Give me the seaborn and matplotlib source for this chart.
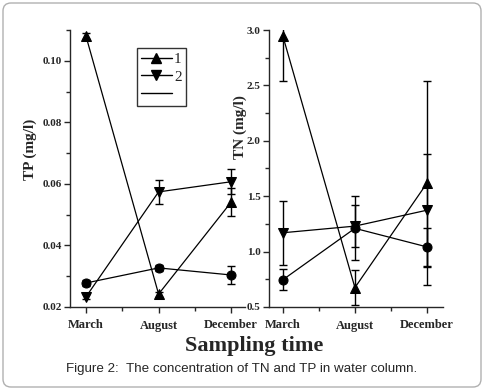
import numpy as np
import pandas as pd
import matplotlib
matplotlib.use("Agg")
import matplotlib.pyplot as plt
import matplotlib.transforms as mtransforms
from matplotlib.patches import FancyBboxPatch
from matplotlib.lines import Line2D
from matplotlib.ticker import MultipleLocator
import seaborn as sns

months = ["March", "August", "December"]
series = ["1", "2", "3"]
markers = {"1": "^", "2": "v", "3": "o"}

# TP (mg/l)
tp_1 = [0.108, 0.0242, 0.0541]
tp_2 = [0.0233, 0.0574, 0.0607]
tp_3 = [0.0278, 0.0327, 0.0304]
tp_err_1 = [0.001, 0.0008, 0.0046]
tp_err_2 = [0.0008, 0.004, 0.004]
tp_err_3 = [0.001, 0.001, 0.003]

# TN (mg/l)
tn_1 = [2.95, 0.675, 1.62]
tn_2 = [1.17, 1.23, 1.374]
tn_3 = [0.745, 1.21, 1.042]
tn_err_1 = [0.41, 0.16, 0.92]
tn_err_2 = [0.29, 0.19, 0.51]
tn_err_3 = [0.095, 0.29, 0.17]

sns.set_style("ticks")
plt.rcParams['font.family'] = ['Liberation Serif', 'DejaVu Serif']
plt.rcParams['xtick.direction'] = 'out'
plt.rcParams['ytick.direction'] = 'out'


def make_df(vals, errs):
    rows = []
    for s, v, e in zip(series, vals, errs):
        for i, m in enumerate(months):
            rows.append({"pos": i, "month": m, "series": s, "value": v[i], "err": e[i]})
    return pd.DataFrame(rows)


def draw_panel(ax, df, ylim, major, minor, xlim, ylabel, label_xy):
    sns.lineplot(data=df, x="pos", y="value", hue="series", style="series",
                 markers=markers, dashes=False, palette=["black"] * 3,
                 markersize=6.5, linewidth=0.9, markeredgecolor="black",
                 legend=False, ax=ax)
    for s in series:
        sub = df[df["series"] == s]
        ax.errorbar(sub["pos"], sub["value"], yerr=sub["err"], fmt="none",
                    ecolor="black", elinewidth=1.0, capsize=3, capthick=1.0)
    ax.set_xlim(*xlim)
    ax.set_ylim(*ylim)
    ax.set_xticks(range(len(months)))
    ax.set_xticklabels(months, fontsize=9, fontweight="bold")
    ax.xaxis.set_minor_locator(MultipleLocator(0.5))
    ax.yaxis.set_major_locator(MultipleLocator(major))
    ax.yaxis.set_minor_locator(MultipleLocator(minor))
    for lab in ax.get_yticklabels():
        lab.set_fontsize(8)
        lab.set_fontweight("bold")
    ax.tick_params(which="major", length=4, width=1, pad=2)
    ax.tick_params(which="minor", length=3, width=1)
    ax.tick_params(axis="x", which="major", pad=5)
    for side in ["top", "right"]:
        ax.spines[side].set_visible(False)
    ax.spines["left"].set_linewidth(1)
    ax.spines["bottom"].set_linewidth(1)
    ax.set_xlabel("")
    ax.set_ylabel(ylabel, fontsize=11, fontweight="bold")
    ax.yaxis.set_label_coords(*label_xy)


fig = plt.figure(figsize=(4.84, 3.90), dpi=100)

ax1 = fig.add_axes([70 / 484, 83 / 390, 175 / 484, 277 / 390])
ax2 = fig.add_axes([269 / 484, 83 / 390, 174 / 484, 277 / 390])

draw_panel(ax1, make_df([tp_1, tp_2, tp_3], [tp_err_1, tp_err_2, tp_err_3]),
           (0.02, 0.11), 0.02, 0.01, (-0.22, 2.19), "TP (mg/l)", (-0.19, 0.57))
draw_panel(ax2, make_df([tn_1, tn_2, tn_3], [tn_err_1, tn_err_2, tn_err_3]),
           (0.5, 3.0), 0.5, 0.25, (-0.19, 2.22), "TN (mg/l)", (-0.125, 0.65))

handles = [Line2D([], [], color="black", lw=1, marker="^", markersize=6.5),
           Line2D([], [], color="black", lw=1, marker="v", markersize=6.5),
           Line2D([], [], color="black", lw=1)]
leg = ax1.legend(handles, ["1", "2", " "], loc="upper left",
                 bbox_to_anchor=(0.38, 0.935), fontsize=11, handlelength=2.0,
                 frameon=True, fancybox=False, borderpad=0.3, labelspacing=0.25,
                 handletextpad=0.15, borderaxespad=0)
leg.get_frame().set_edgecolor("black")
leg.get_frame().set_linewidth(1)

fig.text(254 / 484, 1 - 346 / 390, "Sampling time", ha="center", va="center",
         fontsize=16, fontweight="bold")
fig.text(242 / 484, 1 - 369 / 390,
         "Figure 2:  The concentration of TN and TP in water column.",
         ha="center", va="center", fontsize=9.6, family=["Liberation Sans", "DejaVu Sans"])

border = FancyBboxPatch((3, 3), 478, 384, boxstyle="round,pad=0,rounding_size=8",
                        transform=mtransforms.IdentityTransform(),
                        facecolor="none", edgecolor="#b0b0b0", linewidth=1)
fig.patches.append(border)

fig.savefig("out.png", dpi=100)
